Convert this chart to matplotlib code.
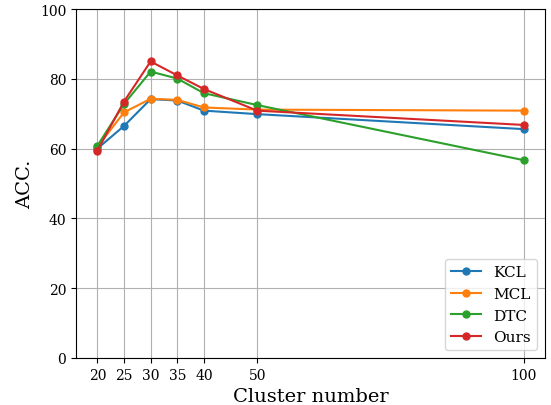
import matplotlib
matplotlib.use('Agg')
import matplotlib.pyplot as plt

plt.rcParams['font.family'] = 'DejaVu Serif'

# Cluster numbers and accuracy for each method
clusters = [20, 25, 30, 35, 40, 50, 100]
kcl = [60.0, 66.5, 74.2, 73.8, 70.9, 69.9, 65.6]
mcl = [60.5, 70.4, 74.3, 74.0, 71.8, 71.2, 70.9]
dtc = [60.8, 72.8, 82.1, 80.1, 75.9, 72.5, 56.7]
ours = [59.4, 73.5, 85.0, 81.0, 77.1, 70.9, 66.8]

fig = plt.figure(figsize=(5.51, 4.06), dpi=100)
ax = fig.add_axes([0.138, 0.116, 0.851, 0.859])

ax.plot(clusters, kcl, marker='o', markersize=5, label='KCL')
ax.plot(clusters, mcl, marker='o', markersize=5, label='MCL')
ax.plot(clusters, dtc, marker='o', markersize=5, label='DTC')
ax.plot(clusters, ours, marker='o', markersize=5, label='Ours')

ax.set_xticks(clusters)
ax.set_ylim(0, 100)
ax.tick_params(labelsize=10)
ax.set_xlabel('Cluster number', fontsize=14)
ax.set_ylabel('ACC.', fontsize=14)
ax.grid(True)
ax.legend(loc='lower right', fontsize=11)

plt.savefig('out.png')
plt.close()
